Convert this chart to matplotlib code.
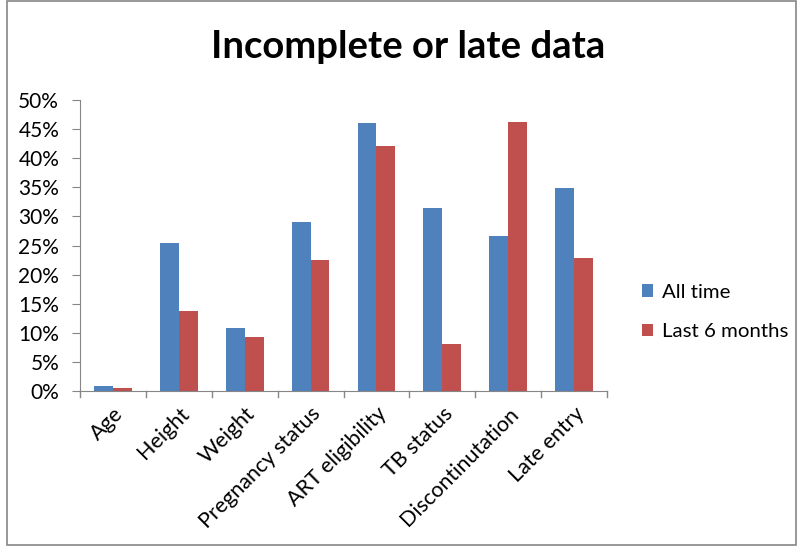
import matplotlib
matplotlib.use('Agg')
import matplotlib.pyplot as plt
import matplotlib.patches as patches
from matplotlib.ticker import FuncFormatter, FixedLocator
import numpy as np

# data
categories = ['Age', 'Height', 'Weight', 'Pregnancy status', 'ART eligibility',
              'TB status', 'Discontinutation', 'Late entry']
all_time = [0.9, 25.5, 10.9, 29.0, 46.1, 31.5, 26.6, 34.8]
last_6_months = [0.6, 13.7, 9.3, 22.5, 42.1, 8.0, 46.3, 22.9]
series_names = ['All time', 'Last 6 months']
y_ticks = list(range(0, 51, 5))

plt.rcParams['font.family'] = ['Lato', 'DejaVu Sans']

fig = plt.figure(figsize=(7.99, 5.48), dpi=100)
ax = fig.add_axes([80 / 799, 1 - 391 / 548, 527 / 799, 291 / 548])

x = np.arange(len(categories))
bw = 1 / 3.5  # excel gap width 150%
ax.bar(x - bw / 2, all_time, bw, color='#4F81BD', label=series_names[0])
ax.bar(x + bw / 2, last_6_months, bw, color='#C0504D', label=series_names[1])

ax.set_xlim(-0.5, len(categories) - 0.5)
ax.set_ylim(0, 50)
ax.yaxis.set_major_locator(FixedLocator(y_ticks))
ax.yaxis.set_major_formatter(FuncFormatter(lambda v, p: f'{v:.0f}%'))

# category labels at centres, tick marks at boundaries
ax.set_xticks(x)
ax.set_xticklabels(categories, rotation=45, ha='right', va='top',
                   rotation_mode='anchor', fontsize=15.5)
ax.tick_params(axis='x', length=0, pad=9)
for b in np.arange(-0.5, len(categories), 1):
    ax.plot([b, b], [0, -0.02], transform=ax.get_xaxis_transform(),
            color='#868686', lw=1, clip_on=False)

ax.tick_params(axis='y', labelsize=15, length=6, color='#868686', pad=9)
for s in ['top', 'right']:
    ax.spines[s].set_visible(False)
for s in ['left', 'bottom']:
    ax.spines[s].set_color('#868686')

fig.text(0.511, 1 - 47 / 548, 'Incomplete or late data', ha='center',
         va='center', fontsize=27.5, fontweight='bold')

fig.legend(loc='center left', bbox_to_anchor=(642 / 799, 1 - 312 / 548),
           frameon=False, fontsize=14.7, handlelength=0.55, handleheight=0.55,
           labelspacing=1.1, handletextpad=0.45, borderpad=0, borderaxespad=0)

# outer chart border
fig.patches.append(patches.Rectangle((7 / 799, 3 / 548), 789 / 799, 544 / 548,
                                     transform=fig.transFigure, fill=False,
                                     edgecolor='#868686', lw=1.2))

fig.savefig('out.png', dpi=100)
